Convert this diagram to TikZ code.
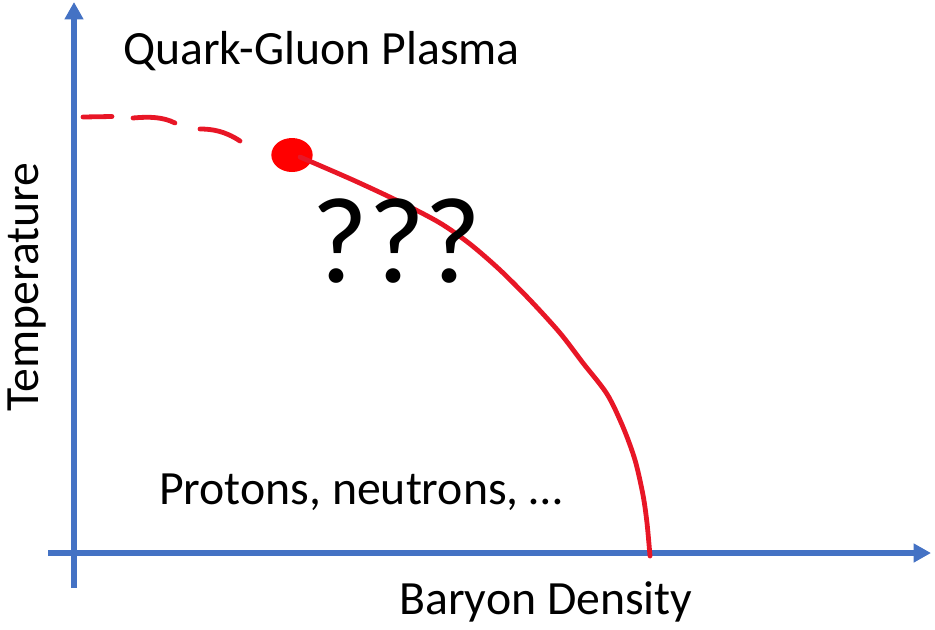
\documentclass[tikz,border=0pt]{standalone}
\usepackage{fontspec}
\setmainfont{Carlito}
\usetikzlibrary{arrows.meta,shapes.geometric}
\definecolor{axisblue}{RGB}{68,114,196}
\definecolor{curvered}{RGB}{232,22,38}
\definecolor{dotred}{RGB}{255,0,0}
\begin{document}
\begin{tikzpicture}[x=0.75pt,y=-0.75pt,
  axis/.style={draw=axisblue,line width=4.5pt,-{Triangle[length=13pt,width=13.5pt]}},
  phaseline/.style={draw=curvered,line width=3.6pt,line cap=round},
  lbl/.style={inner sep=0pt,font=\fontsize{35.8}{42}\selectfont},
]
\useasboundingbox (0,0) rectangle (935,629);
% axes
\coordinate (yb) at (74,588);
\coordinate (yt) at (74,2);
\coordinate (xl) at (48,553);
\coordinate (xr) at (931,553);
\draw[axis] (yb) -- (yt);
\draw[axis] (xl) -- (xr);
% critical point
\node[draw=none,fill=dotred,ellipse,minimum width=31pt,minimum height=25.5pt,inner sep=0pt] (cp) at (292,155) {};
% dashed crossover
\coordinate (d1a) at (83,117);
\coordinate (d1b) at (112,116.5);
\coordinate (d2a) at (133,118);
\coordinate (d2b) at (175,123);
\coordinate (d3a) at (200,129);
\coordinate (d3b) at (240,141);
\draw[phaseline] (d1a) -- (d1b);
\draw[phaseline] (d2a) .. controls (150,116.5) and (163,117) .. (d2b);
\draw[phaseline] (d3a) .. controls (212,129) and (225,131) .. (d3b);
% first-order line
\coordinate (pe) at (650,556);
\draw[phaseline] plot[smooth,tension=0.5] coordinates {(300,157) (353,180) (400,202) (440,223) (470,244) (500,270) (530,300) (560,333) (583,363) (607,394) (623,427) (635,460) (643,495) (647,523) (pe)};
% labels
\node[lbl,anchor=base west] (qgp) at (123,64) {Quark-Gluon Plasma};
\node[inner sep=0pt,anchor=base west,font=\fontsize{92}{104}\selectfont] (qqq) at (311,282) {???};
\node[lbl,anchor=base west] (hadr) at (159,504) {Protons, neutrons, …};
\node[lbl,anchor=base west] (xlab) at (399,614) {Baryon Density};
\node[lbl,rotate=90,anchor=base] (ylab) at (38,287) {Temperature};
\end{tikzpicture}
\end{document}
